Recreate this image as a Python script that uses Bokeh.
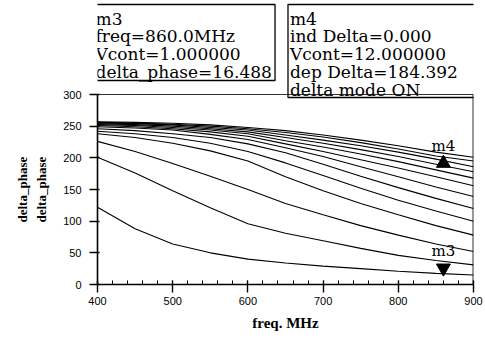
from bokeh.plotting import figure
from bokeh.models import Label, Range1d, FixedTicker, BoxAnnotation, Span, Title
from bokeh.embed import file_html
from bokeh.resources import INLINE

# ---- data ----
freq = [400, 450, 500, 550, 600, 650, 700, 750, 800, 850, 900]
vcont = [1, 2, 3, 4, 5, 6, 7, 8, 9, 10, 11, 12, 13]
phase_v1 = [122, 88, 64, 50, 40, 34, 29, 25, 21, 17.5, 15]
phase_v2 = [201, 176, 148, 121, 96, 81, 69, 57, 46, 38, 31]
phase_v3 = [226, 210, 191, 171, 150, 128, 110, 93, 78, 64, 52]
phase_v4 = [238, 232, 223, 211, 195, 170, 148, 128, 110, 93, 78]
phase_v5 = [242, 238, 232, 223, 210, 192, 172, 152, 133, 116, 100]
phase_v6 = [246, 243, 238, 232, 222, 208, 190, 171, 153, 136, 120]
phase_v7 = [249, 247, 244, 237, 229, 216, 202, 186, 170, 154, 139]
phase_v8 = [251, 249, 246, 241, 234, 222, 210, 197, 184, 170, 156]
phase_v9 = [252.5, 251, 248, 244, 238, 227, 217, 206, 194, 181, 168]
phase_v10 = [254, 252.5, 250, 246, 241, 232, 223, 213, 202, 190, 178]
phase_v11 = [255, 254, 252, 248, 244, 236, 228, 219, 209, 198, 186]
phase_v12 = [256, 255, 253, 250, 246, 240, 233, 224, 214, 203, 195]
phase_v13 = [257, 256, 254.5, 252, 248, 243, 236, 228, 219, 209, 201]
curves = [phase_v1, phase_v2, phase_v3, phase_v4, phase_v5, phase_v6, phase_v7,
          phase_v8, phase_v9, phase_v10, phase_v11, phase_v12, phase_v13]

x_ticks = [400, 500, 600, 700, 800, 900]
y_ticks = [0, 50, 100, 150, 200, 250, 300]

m3_freq = 860.0
m3_vcont = 1.0
m3_phase = 16.488
m4_ind_delta = 0.000
m4_vcont = 12.0
m4_dep_delta = 184.392

# ---- layout helpers (page pixels -> data) ----
W, H = 485, 342
X0, X1, Y0, Y1 = 400, 900, 0, 300
PLOT_L, PLOT_R, PLOT_T, PLOT_B = 96, 473, 94, 284     # the 0..300 plotting area
PX_PER_Y = (PLOT_B - PLOT_T) / (Y1 - Y0)
FRAME_T = 2                                            # frame extends up to hold readouts
Y_TOP = Y0 + (PLOT_B - FRAME_T) / PX_PER_Y

def dx(px):
    return X0 + (px - PLOT_L) * (X1 - X0) / (PLOT_R - PLOT_L)
def dy(py):
    return Y0 + (PLOT_B - py) / PX_PER_Y
def dpx_y(n):
    return n / PX_PER_Y

p = figure(width=W, height=H, x_range=Range1d(X0, X1), y_range=Range1d(Y0, Y_TOP),
           output_backend="svg", toolbar_location=None,
           min_border_left=PLOT_L, min_border_right=W - PLOT_R,
           min_border_top=FRAME_T, min_border_bottom=H - PLOT_B)

p.xgrid.visible = False
p.ygrid.visible = False
p.background_fill_color = "white"
p.border_fill_color = "white"
p.outline_line_color = None

# plot-area border (top and right)
p.add_layout(Span(location=Y1, dimension="width", line_color="black", line_width=1,
                  line_alpha=0.8))
p.segment(x0=[X1], y0=[Y0], x1=[X1], y1=[Y1], line_color="black", line_width=2,
          line_alpha=0.8)

for c in curves:
    p.line(freq, c, line_color="black", line_width=1.1)

# markers
m4_val = m3_phase + m4_dep_delta
tri = dpx_y(6)
p.scatter([m3_freq], [m3_phase + tri], marker="inverted_triangle", size=14,
          fill_color="black", line_color="black")
p.scatter([m3_freq + m4_ind_delta], [m4_val - tri], marker="triangle", size=14,
          fill_color="black", line_color="black")
mk_kw = dict(text_align="center", text_baseline="middle", text_font="DejaVu Serif",
             text_font_size="15px", text_color="black")
p.add_layout(Label(x=m3_freq, y=m3_phase, y_offset=23, text="m3", **mk_kw))
p.add_layout(Label(x=m3_freq, y=m4_val, y_offset=11, text="m4", **mk_kw))

# axes
xa = p.xaxis[0]
xa.ticker = FixedTicker(ticks=x_ticks, minor_ticks=list(range(400, 901, 20)))
xa.axis_label = "freq. MHz"
ya = p.yaxis[0]
ya.ticker = FixedTicker(ticks=y_ticks, minor_ticks=[])
ya.bounds = (Y0, Y1)
for ax in (xa, ya):
    ax.axis_line_color = "black"
    ax.axis_line_width = 1.6
    ax.major_tick_line_color = "black"
    ax.major_tick_line_width = 1.4
    ax.minor_tick_line_color = "black"
    ax.major_label_text_font = "Liberation Sans"
    ax.major_label_text_font_size = "11px"
    ax.major_label_text_color = "black"
xa.axis_label_text_font = "Liberation Serif"
xa.axis_label_text_font_size = "15px"
xa.axis_label_text_font_style = "bold"
xa.axis_label_text_color = "black"
xa.major_tick_in = 4
xa.major_tick_out = 8
xa.minor_tick_in = 4
xa.minor_tick_out = 0
xa.major_label_standoff = 4
xa.axis_label_standoff = 7
ya.major_tick_in = 2
ya.major_tick_out = 8
ya.major_label_standoff = 8

# y axis title (centred on the 0..300 plotting area, not on the whole frame)
y_title = Title(text="delta_phase\ndelta_phase", align="left",
                offset=(PLOT_B - PLOT_T) / 2 - 33, standoff=24,
                text_font="Liberation Serif", text_font_size="13px",
                text_font_style="bold", text_color="black", text_line_height=1.25)
p.add_layout(y_title, "left")

# marker readout boxes
m3_lines = ["m3", "freq=%.1fMHz" % m3_freq, "Vcont=%.6f" % m3_vcont,
            "delta_phase=%.3f" % m3_phase]
m4_lines = ["m4", "ind Delta=%.3f" % m4_ind_delta, "Vcont=%.6f" % m4_vcont,
            "dep Delta=%.3f" % m4_dep_delta, "delta mode ON"]
row_y = [18, 35.5, 53, 71, 89]
for lines, left in ((m3_lines, 94), (m4_lines, 289)):
    for t, ry in zip(lines, row_y):
        p.add_layout(Label(x=dx(left), y=dy(ry), text=t, text_align="left",
                           text_baseline="middle", text_font="DejaVu Serif",
                           text_font_size="17px", text_color="black"))
box_kw = dict(fill_alpha=0, line_color="black", line_width=1.3, line_alpha=1.0)
p.add_layout(BoxAnnotation(left=dx(92), right=dx(274), top=dy(4), bottom=dy(80), **box_kw))
p.add_layout(BoxAnnotation(left=dx(287), right=dx(475), top=dy(4), bottom=dy(97), **box_kw))

open("out.html", "w").write(file_html(p, INLINE))
